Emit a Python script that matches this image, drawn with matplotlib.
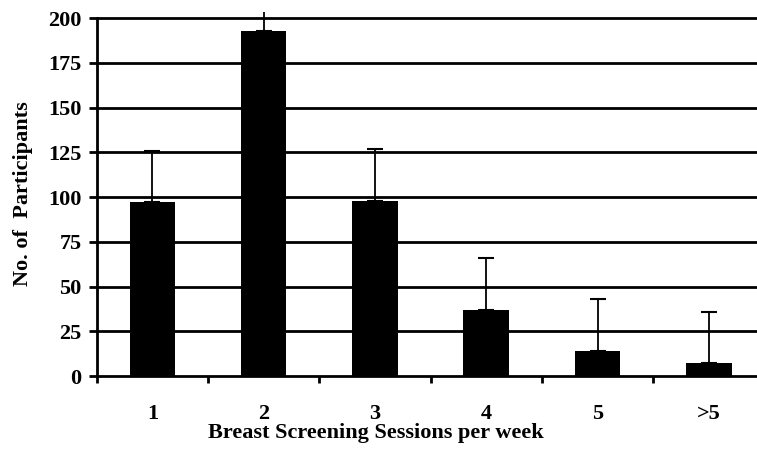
import numpy as np
import matplotlib.pyplot as plt
from matplotlib.ticker import FixedLocator

# sessions per week and participant counts
categories = ['1', '2', '3', '4', '5', '>5']
participants = [97, 193, 98, 37, 14, 7]
upper_err = [29, 29, 29, 29, 29, 29]
y_ticks = [0, 25, 50, 75, 100, 125, 150, 175, 200]

plt.rcParams['font.family'] = ['Liberation Serif', 'DejaVu Serif']
plt.rcParams['font.weight'] = 'bold'

fig = plt.figure(figsize=(7.57, 4.5), dpi=100)
ax = fig.add_axes([0.1277, 0.1644, 0.8824, 0.8089])

x = np.arange(len(categories))
zeros = [0] * len(upper_err)

ax.bar(x, participants, width=0.41, color='black', zorder=3)
ax.errorbar(x, participants, yerr=[zeros, upper_err], fmt='none',
            ecolor='black', elinewidth=1.3, capsize=5.5, capthick=1.5, zorder=2)

ax.set_xlim(-0.5, len(categories) - 0.5)
ax.set_ylim(0, 203.4)

# horizontal gridlines, the top one doubles as the frame
for y in y_ticks[1:]:
    ax.axhline(y, color='black', linewidth=2, zorder=1)

for side in ['top', 'right']:
    ax.spines[side].set_visible(False)
ax.spines['left'].set_linewidth(2)
ax.spines['bottom'].set_linewidth(2)
ax.spines['left'].set_bounds(0, 200)

ax.set_yticks(y_ticks)
ax.tick_params(axis='y', direction='out', length=6, width=2, pad=5, labelsize=16)

ax.set_xticks(x)
ax.set_xticklabels(categories)
ax.xaxis.set_minor_locator(FixedLocator(np.arange(-0.5, len(categories), 1.0)))
ax.tick_params(axis='x', which='major', length=0, pad=20, labelsize=16)
ax.tick_params(axis='x', which='minor', direction='out', length=5, width=2)

ax.set_xlabel('Breast Screening Sessions per week', fontsize=16,
              fontweight='bold', labelpad=-1)
ax.xaxis.set_label_coords(0.418, -0.13)
ax.set_ylabel('No. of  Participants', fontsize=16, fontweight='bold', labelpad=11)

fig.savefig('out.png', dpi=100)
